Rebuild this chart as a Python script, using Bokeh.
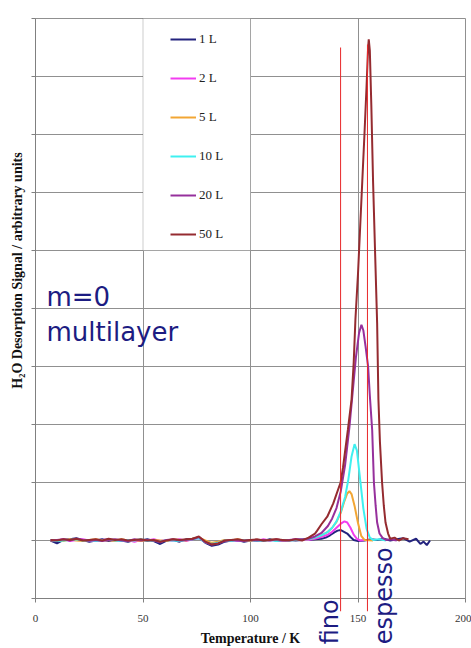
from bokeh.plotting import figure
from bokeh.models import (Range1d, SingleIntervalTicker, Legend, LegendItem, LinearAxis, Grid,
                          BoxAnnotation, Label, Arrow, CustomLabelingPolicy)
from bokeh.embed import file_html
from bokeh.resources import INLINE

# ---------------- data ----------------
series_names = ["1 L", "2 L", "5 L", "10 L", "20 L", "50 L"]
series_colors = ["#23237e", "#f23cf0", "#f2a634", "#3ff0f0", "#96309c", "#952b30"]

T_low = [7, 10, 13, 16, 19, 22, 25, 28, 31, 34, 37, 40, 43, 46, 49, 52, 55, 58, 61, 64,
         67, 70, 73, 76, 79, 82, 85, 88, 91, 94, 97, 100, 103, 106, 109, 112, 115, 118, 121, 124]

low_1L = [0.00, -0.05, 0.01, 0.02, 0.04, 0.01, -0.02, 0.00, 0.02, -0.01, 0.01, 0.00, -0.02, 0.01,
          0.00, 0.02, -0.01, -0.06, 0.00, 0.01, -0.02, 0.02, 0.03, 0.05, -0.04, -0.09, -0.07,
          -0.02, 0.00, 0.01, -0.02, 0.00, 0.01, -0.01, 0.02, 0.00, -0.01, 0.01, 0.00, 0.01]
low_2L = [0.01, 0.00, 0.02, -0.01, 0.01, 0.02, 0.00, -0.01, 0.01, 0.02, -0.01, 0.00, 0.01, -0.02,
          0.01, 0.00, 0.02, -0.01, 0.01, 0.00, 0.02, -0.01, 0.02, 0.04, -0.02, -0.05, -0.03,
          0.00, 0.01, -0.01, 0.01, 0.00, -0.01, 0.02, 0.00, 0.01, -0.01, 0.00, 0.02, 0.01]
low_5L = [0.00, 0.01, -0.01, 0.02, 0.00, -0.01, 0.01, 0.02, 0.00, 0.01, -0.01, 0.02, 0.00, 0.01,
          -0.01, 0.00, 0.01, 0.00, -0.01, 0.02, 0.01, 0.00, 0.03, 0.05, 0.00, -0.04, -0.02,
          0.01, 0.00, 0.02, 0.00, -0.01, 0.01, 0.00, 0.01, 0.02, 0.00, 0.01, 0.01, 0.02]
low_10L = [0.01, -0.01, 0.00, 0.01, 0.02, 0.00, 0.01, -0.01, 0.00, 0.02, 0.00, -0.01, 0.01, 0.00,
           0.02, -0.01, 0.00, -0.02, 0.01, 0.00, -0.01, 0.01, 0.02, 0.04, -0.03, -0.06, -0.04,
           0.00, -0.01, 0.01, 0.00, 0.01, -0.01, 0.00, 0.01, -0.01, 0.01, 0.00, 0.01, 0.02]
low_20L = [0.00, 0.01, 0.02, 0.00, 0.03, 0.01, 0.00, 0.01, -0.01, 0.01, 0.02, 0.00, -0.01, 0.02,
           0.00, 0.01, 0.00, -0.03, 0.01, 0.02, 0.00, 0.01, 0.02, 0.06, -0.03, -0.07, -0.05,
           -0.01, 0.01, 0.00, -0.01, 0.01, 0.00, 0.01, 0.00, 0.02, 0.00, 0.01, 0.02, 0.02]
low_50L = [0.01, 0.00, 0.02, 0.01, 0.03, 0.00, 0.01, 0.02, 0.00, 0.03, 0.01, 0.02, 0.00, 0.01,
           0.02, 0.00, 0.01, -0.02, 0.00, 0.02, 0.01, 0.02, 0.03, 0.07, -0.02, -0.07, -0.05,
           0.00, 0.01, 0.02, 0.00, 0.01, 0.02, 0.00, 0.01, 0.02, 0.01, 0.00, 0.02, 0.00]

T_pk_1L = [127, 130, 133, 135, 137, 139, 140.5, 142, 143.5, 145, 146.5, 148, 150, 153, 156, 159,
           162, 165, 168, 171, 174, 177, 179, 180.5, 182, 183.5]
Y_pk_1L = [0.01, 0.02, 0.03, 0.05, 0.09, 0.14, 0.17, 0.18, 0.15, 0.12, 0.06, 0.01, -0.01, 0.00,
           0.02, 0.01, 0.03, 0.00, 0.02, 0.04, -0.02, 0.03, -0.06, -0.02, -0.08, 0.00]

T_pk_2L = [127, 130, 133, 136, 138, 140, 142, 143.7, 145, 146.5, 148, 149.5, 151, 153]
Y_pk_2L = [0.01, 0.03, 0.06, 0.10, 0.15, 0.22, 0.29, 0.33, 0.31, 0.22, 0.10, 0.03, 0.00, 0.01]

T_pk_5L = [127, 130, 133, 136, 138, 140, 142, 143.5, 145, 146, 147, 148.5, 150, 151.5, 153, 157]
Y_pk_5L = [0.02, 0.05, 0.09, 0.15, 0.22, 0.32, 0.48, 0.66, 0.81, 0.85, 0.80, 0.58, 0.30, 0.08,
           0.01, 0.00]

T_pk_10L = [127, 130, 133, 136, 138, 140, 142, 144, 145.5, 147, 148.4, 149.5, 151, 152.5, 154,
            155.5, 157, 160, 163]
Y_pk_10L = [0.02, 0.05, 0.09, 0.15, 0.22, 0.33, 0.50, 0.75, 1.05, 1.45, 1.66, 1.55, 1.05, 0.55,
            0.20, 0.05, 0.01, 0.02, 0.00]

T_pk_20L = [127, 130, 133, 136, 138, 140, 142, 144, 146, 147.5, 149, 150.5, 151.6, 152.5, 153.5,
            154.7, 155.5, 156.6, 157.4, 158.2, 158.9, 160, 161.5, 163, 165, 168]
Y_pk_20L = [0.03, 0.07, 0.13, 0.25, 0.38, 0.56, 0.85, 1.30, 1.95, 2.55, 3.15, 3.58, 3.72, 3.62,
            3.35, 3.00, 2.50, 1.90, 1.00, 0.60, 0.31, 0.12, 0.04, 0.01, 0.02, 0.00]

T_pk_50L = [127, 130, 131, 133, 135.7, 138.5, 140, 141.9, 143, 145.3, 147, 148, 148.8, 150, 151,
            152, 153, 154, 154.7, 155, 155.5, 156.2, 157, 158, 158.9, 159.5, 160.2, 161.2, 162,
            162.8, 164, 165, 167, 169, 171, 173.5]
Y_pk_50L = [0.05, 0.12, 0.17, 0.28, 0.41, 0.64, 0.80, 1.00, 1.25, 1.91, 2.43, 3.07, 3.81, 4.60,
            5.40, 6.20, 7.00, 7.85, 8.50, 8.64, 8.45, 7.50, 6.20, 4.90, 3.75, 2.43, 1.70, 1.00,
            0.60, 0.31, 0.12, 0.03, 0.05, 0.00, 0.04, 0.02]

low_lists = [low_1L, low_2L, low_5L, low_10L, low_20L, low_50L]
pk_T = [T_pk_1L, T_pk_2L, T_pk_5L, T_pk_10L, T_pk_20L, T_pk_50L]
pk_Y = [Y_pk_1L, Y_pk_2L, Y_pk_5L, Y_pk_10L, Y_pk_20L, Y_pk_50L]

marker_T = [141.9, 154.4]          # red reference lines (fino, espesso)
marker_top = [8.5, 8.55]
marker_bottom = -1.22
marker_names = ["fino", "espesso"]

x_min, x_max, x_step = 0, 200, 50
y_min, y_max, y_step = -1, 9, 1
x_ticks = [0, 50, 100, 150, 200]
y_ticks = [-1, 0, 1, 2, 3, 4, 5, 6, 7, 8, 9]

# ---------------- figure: the frame covers the whole canvas ----------------
W, H = 471, 648
left_px, right_px, top_px, bottom_px = 35, 465, 18, 598
sx = (right_px - left_px) / (x_max - x_min)
sy = (bottom_px - top_px) / (y_max - y_min)
xr = Range1d(x_min - left_px / sx, x_max + (W - right_px) / sx)
yr = Range1d(y_min - (H - bottom_px) / sy, y_max + top_px / sy)

p = figure(width=W, height=H, output_backend="svg", toolbar_location=None,
           x_range=xr, y_range=yr, x_axis_location=None, y_axis_location=None,
           min_border=0, min_border_left=0, min_border_right=0, min_border_top=0,
           min_border_bottom=0, background_fill_color="white", border_fill_color="white")
p.outline_line_color = None
p.xgrid.visible = False
p.ygrid.visible = False

grid_col = "#909090"
has_cross = "cross_bounds" in Grid.properties()
if has_cross:
    gx = Grid(dimension=0, ticker=SingleIntervalTicker(interval=x_step),
              bounds=(x_min - 1, x_max + 1), cross_bounds=(y_min, y_max),
              grid_line_color=grid_col)
    gy = Grid(dimension=1, ticker=SingleIntervalTicker(interval=y_step),
              bounds=(y_min - 0.5, y_max + 0.5), cross_bounds=(x_min, x_max),
              grid_line_color=grid_col)
    p.add_layout(gx)
    p.add_layout(gy)
else:
    p.segment(x0=x_ticks, y0=[y_min] * len(x_ticks), x1=x_ticks, y1=[y_max] * len(x_ticks),
              line_color=grid_col, line_width=1, level="underlay")
    p.segment(x0=[x_min] * len(y_ticks), y0=y_ticks, x1=[x_max] * len(y_ticks), y1=y_ticks,
              line_color=grid_col, line_width=1, level="underlay")

xaxis = LinearAxis(fixed_location=y_min, bounds=(x_min, x_max),
                   ticker=SingleIntervalTicker(interval=x_step, num_minor_ticks=0))
yaxis = LinearAxis(fixed_location=x_min, bounds=(y_min, y_max),
                   ticker=SingleIntervalTicker(interval=y_step, num_minor_ticks=0))
for ax in (xaxis, yaxis):
    ax.axis_line_color = "#808080"
    ax.major_tick_line_color = "#808080"
    ax.major_tick_out = 4
    ax.major_tick_in = 0
    ax.minor_tick_line_color = None
# the y axis shows ticks only, no tick labels
yaxis.major_label_policy = CustomLabelingPolicy(code="return new Set()")
xaxis.major_label_text_font = "Liberation Serif"
xaxis.major_label_text_font_size = "11px"
xaxis.major_label_text_color = "#333333"
xaxis.major_label_standoff = 12
xaxis.axis_label = "Temperature / K"
xaxis.axis_label_text_font = "Liberation Serif"
xaxis.axis_label_text_font_style = "bold"
xaxis.axis_label_text_font_size = "14px"
xaxis.axis_label_text_color = "#111111"
xaxis.axis_label_standoff = 6
p.add_layout(xaxis, "below")
p.add_layout(yaxis, "left")

# legend box (white, covers grid)
box = BoxAnnotation(left=50, right=100, bottom=5, top=9, fill_color="white", fill_alpha=1.0,
                    line_color="#555555", line_width=1)
p.add_layout(box)

renderers = []
for name, col, lo, tt, yy in zip(series_names, series_colors, low_lists, pk_T, pk_Y):
    r = p.line(T_low + tt, lo + yy, line_color=col, line_width=2)
    renderers.append(r)

# red reference lines
for t, top in zip(marker_T, marker_top):
    p.add_layout(Arrow(x_start=t, y_start=marker_bottom, x_end=t, y_end=top,
                       start=None, end=None, line_color="#e8282a", line_width=1))

legend = Legend(items=[LegendItem(label=n, renderers=[r]) for n, r in zip(series_names, renderers)],
                location=(170, 404), border_line_color=None, background_fill_alpha=0,
                padding=0, spacing=19, glyph_height=20, glyph_width=26, label_standoff=3,
                label_height=20, margin=0, label_text_font="Liberation Serif",
                label_text_font_size="13px", label_text_color="#222222")
p.add_layout(legend)

navy = "#1c1c82"
p.add_layout(Label(x=5.1, y=4.19, text="m=0", text_font="DejaVu Sans", text_font_size="26px",
                   text_color=navy, text_baseline="alphabetic"))
p.add_layout(Label(x=5.1, y=3.59, text="multilayer", text_font="DejaVu Sans",
                   text_font_size="26px", text_color=navy, text_baseline="alphabetic"))
p.add_layout(Label(x=136.8, y=-1.79, text=marker_names[0], angle=90, angle_units="deg",
                   text_font="DejaVu Sans", text_font_size="24px", text_color=navy,
                   text_baseline="alphabetic", text_align="left"))
p.add_layout(Label(x=162.3, y=-1.79, text=marker_names[1], angle=90, angle_units="deg",
                   text_font="DejaVu Sans", text_font_size="24px", text_color=navy,
                   text_baseline="alphabetic", text_align="left"))
p.add_layout(Label(x=-8.4, y=4.655, text="H\u2082O Desorption Signal / arbitrary units",
                   angle=90, angle_units="deg", text_font="Liberation Serif",
                   text_font_style="bold", text_font_size="14px", text_color="#111111",
                   text_baseline="middle", text_align="center"))

open("out.html", "w").write(file_html(p, INLINE))
